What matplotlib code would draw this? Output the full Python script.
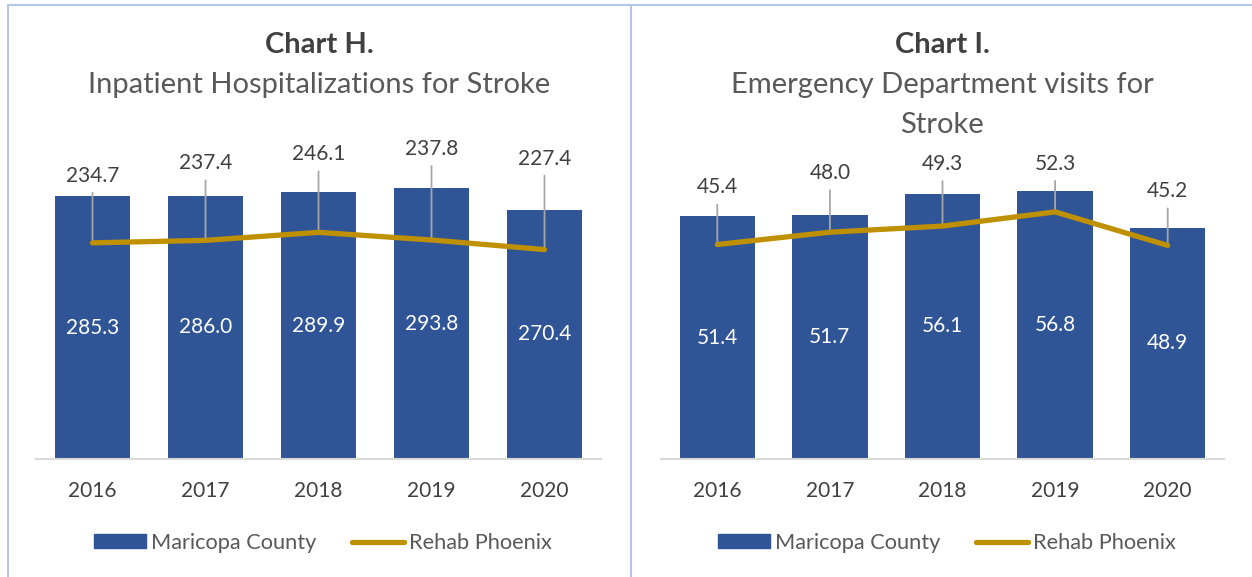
import matplotlib
matplotlib.use("Agg")
import matplotlib.pyplot as plt
from matplotlib.lines import Line2D
import numpy as np

plt.rcParams['font.family'] = ['Lato', 'DejaVu Sans']

# Data
years = ['2016', '2017', '2018', '2019', '2020']
inpatient_county = [285.3, 286.0, 289.9, 293.8, 270.4]
inpatient_rehab = [234.7, 237.4, 246.1, 237.8, 227.4]
ed_county = [51.4, 51.7, 56.1, 56.8, 48.9]
ed_rehab = [45.4, 48.0, 49.3, 52.3, 45.2]

# label offsets above the line points (pixels), as placed in the original
inpatient_offsets = [67, 77, 78, 91, 91]
ed_offsets = [57, 59, 62, 48, 54]

BLUE = '#2F5597'
GOLD = '#BF9000'
TEXT = '#404040'
LEADER = '#A6A6A6'
BORDER = '#B4C7E7'

W, H = 1252, 577
fig = plt.figure(figsize=(W / 100, H / 100), dpi=100)


def px_box(x0, x1, ytop, ybot):
    return [x0 / W, 1 - ybot / H, (x1 - x0) / W, (ybot - ytop) / H]


def draw_panel(ax, county, rehab, offsets, ymax):
    x = np.arange(len(years))
    ax.bar(x, county, width=0.67, color=BLUE, zorder=2)
    ax.plot(x, rehab, color=GOLD, lw=3.8, solid_capstyle='round', zorder=3)
    for i, v in enumerate(county):
        ax.text(i, v / 2, f'{v:.1f}', color='white', ha='center', va='center',
                fontsize=15, zorder=4)
    for i, (v, off) in enumerate(zip(rehab, offsets)):
        ax.annotate(f'{v:.1f}', xy=(i, v), xytext=(0, off), textcoords='offset pixels',
                    ha='center', va='center', color=TEXT, fontsize=15, zorder=4)
        ax.annotate('', xy=(i, v), xytext=(0, off - 17), textcoords='offset pixels',
                    arrowprops=dict(arrowstyle='-', color=LEADER, lw=1.3,
                                    shrinkA=0, shrinkB=0), zorder=2.5)
    ax.set_xlim(-0.5, len(years) - 0.5)
    ax.set_ylim(0, ymax)
    ax.set_xticks(x)
    ax.set_xticklabels(years, fontsize=15, color=TEXT)
    ax.tick_params(axis='x', length=0, pad=16)
    ax.set_yticks([])
    for s in ['top', 'left', 'right']:
        ax.spines[s].set_visible(False)
    ax.spines['bottom'].set_color('#D9D9D9')
    ax.spines['bottom'].set_linewidth(1.5)
    ax.patch.set_alpha(0)


ax1 = fig.add_axes(px_box(36, 601, 140, 459))
draw_panel(ax1, inpatient_county, inpatient_rehab, inpatient_offsets, 319 / 0.921)
ax2 = fig.add_axes(px_box(661, 1224, 140, 459))
draw_panel(ax2, ed_county, ed_rehab, ed_offsets, 319 / 4.725)

# titles
TITLE_SIZE = 21
fig.text(319.5 / W, 1 - 45 / H, 'Chart H.', ha='center', va='center',
         fontsize=TITLE_SIZE, fontweight='bold', color=TEXT)
fig.text(319.5 / W, 1 - 85 / H, 'Inpatient Hospitalizations for Stroke', ha='center',
         va='center', fontsize=TITLE_SIZE, color='#595959')
fig.text(942 / W, 1 - 45 / H, 'Chart I.', ha='center', va='center',
         fontsize=TITLE_SIZE, fontweight='bold', color=TEXT)
fig.text(942 / W, 1 - 85 / H, 'Emergency Department visits for', ha='center',
         va='center', fontsize=TITLE_SIZE, color='#595959')
fig.text(942 / W, 1 - 125 / H, 'Stroke', ha='center',
         va='center', fontsize=TITLE_SIZE, color='#595959')

# legends
handles = [plt.Rectangle((0, 0), 1, 1, color=BLUE),
           Line2D([0], [0], color=GOLD, lw=3.8, solid_capstyle='round')]
labels = ['Maricopa County', 'Rehab Phoenix']
for cx in [323, 947]:
    fig.legend(handles, labels, loc='center', bbox_to_anchor=(cx / W, 1 - 543 / H),
               ncol=2, frameon=False, fontsize=15.7, handlelength=2.4,
               handleheight=0.6, handletextpad=0.25, columnspacing=1.6,
               labelcolor='#595959')

# panel borders
for xs, ys in [([8, 8], [5, H]), ([8, W], [5, 5]), ([631, 631], [5, H])]:
    fig.add_artist(Line2D([x / W for x in xs], [1 - y / H for y in ys],
                          color=BORDER, lw=1.5, transform=fig.transFigure))

fig.savefig('out.png', dpi=100, facecolor='white')
